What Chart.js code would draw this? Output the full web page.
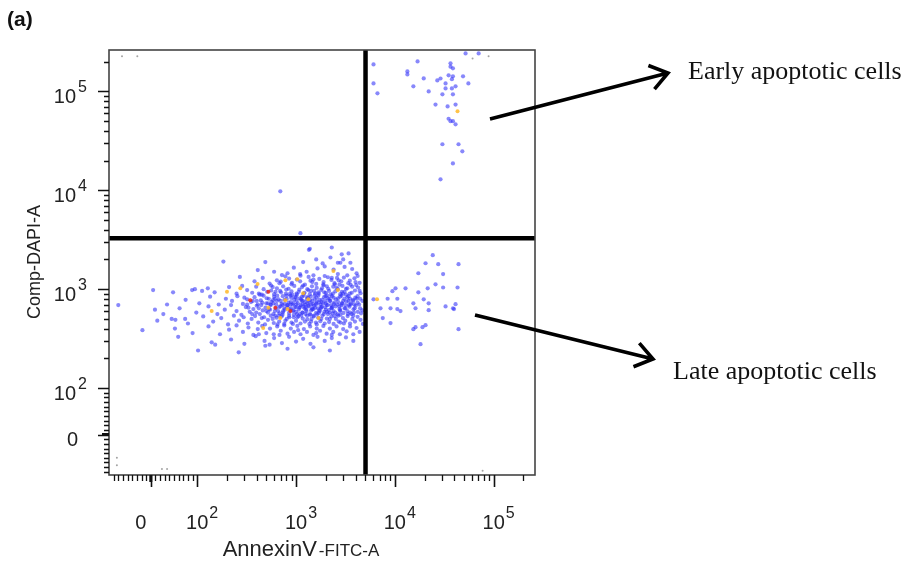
<!DOCTYPE html>
<html>
<head>
<meta charset="utf-8">
<title>AnnexinV / DAPI</title>
<script src="https://cdn.jsdelivr.net/npm/chart.js@4.4.1/dist/chart.umd.min.js"></script>
<style>
  html, body { margin: 0; padding: 0; background: #ffffff; }
  #wrap { width: 907px; height: 563px; position: relative; }
</style>
</head>
<body>
<div id="wrap"><canvas id="c" width="907" height="563"></canvas></div>
<script>
// ---------------- data (AnnexinV-FITC-A, Comp-DAPI-A) ----------------
const fitcRange = [-90, 262144];
const dapiRange = [-87, 262144];
const gateFitc = 5050;
const gateDapi = 3275;

const majorTicks = [0, 100, 1000, 10000, 100000];
const majorLabels = ['0', '10|2', '10|3', '10|4', '10|5'];
const minorTicks = [-80, -70, -60, -50, -40, -30, -20, -10, 10, 20, 30, 40, 50, 60, 70, 80, 90,
  200, 300, 400, 500, 600, 700, 800, 900,
  2000, 3000, 4000, 5000, 6000, 7000, 8000, 9000,
  20000, 30000, 40000, 50000, 60000, 70000, 80000, 90000, 200000];

// annexin-negative / DAPI-low population
const liveCells = [
  [1350,2500],[1380,2560],[2300,2640],[3400,2300],[2900,2250],
  [1180,1880],[2230,2090],[2650,1850],[2810,1850],[1860,1820],[3550,1850],[489,1880],[184,1900],[1600,2000],[3000,2000],
  [820,1450],[1100,1420],[1650,1620],[2400,1580],[4100,1450],[720,1390],[410,1560],[270,1330],[1280,1500],[1950,1700],[3100,1680],[2650,1420],[950,1650],[3700,1600],[1500,1380],[600,1500],
  [1020,1250],[1460,1180],[2100,1320],[2870,1200],[3900,1290],[640,1230],[780,1350],[1230,1110],[1720,1270],[2450,1150],[3300,1380],[4400,1160],[540,1140],[910,1160],[1340,1330],[1890,1120],[2600,1300],[3560,1110],[460,1300],[1110,1370],[1600,1130],[2280,1240],[3050,1310],[4200,1360],[700,1190],[1950,1360],[2750,1110],[850,1280],[1400,1220],[380,1200],
  [95,1000],[112,960],[128,1020],[150,930],[210,1050],[250,900],[285,1080],[320,980],[360,920],[395,1060],[430,880],[470,1000],[510,940],[560,1090],[600,890],[640,1020],[690,960],[740,1070],[790,900],[840,1010],[900,950],[960,1080],[1020,880],[1080,990],[1150,1050],[1220,920],[1300,1000],[1380,890],[1450,1070],[1530,960],[1620,1030],[1700,900],[1800,980],[1900,1090],[2000,920],[2120,1010],[2250,880],[2380,1060],[2500,950],[2650,1000],[2800,890],[2950,1080],[3100,940],[3300,1020],[3500,900],[3700,1060],[3950,970],[4250,1040],[4500,910],[1180,1090],[860,890],[620,940],[1560,900],[2050,1070],[3200,880],
  [75,780],[105,720],[135,840],[165,700],[195,800],[225,760],[255,850],[290,710],[320,790],[350,740],[380,830],[410,700],[440,770],[470,860],[500,720],[530,800],[565,745],[600,840],[630,700],[665,790],[700,760],[735,850],[770,710],[805,800],[840,730],[880,860],[920,700],[960,780],[1000,830],[1040,720],[1090,810],[1140,760],[1190,860],[1240,700],[1290,790],[1350,740],[1410,840],[1470,710],[1540,800],[1610,750],[1680,860],[1760,700],[1840,780],[1920,830],[2000,720],[2100,810],[2200,760],[2310,850],[2420,705],[2540,790],[2660,745],[2790,840],[2930,715],[3080,800],[3230,755],[3400,850],[3580,700],[3770,780],[3980,820],[4200,730],[4450,800],[4700,760],[585,775],[715,710],[1015,765],[1325,815],[1710,735],[2260,690],[2880,860],[3520,800],[455,730],[895,815],[1165,700],[2060,865],[1385,770],
  [62,640],[98,580],[130,670],[160,560],[190,620],[220,690],[250,600],[280,550],[310,660],[340,590],[370,630],[400,680],[430,560],[460,610],[490,650],[520,580],[555,690],[590,560],[625,640],[660,600],[695,670],[730,550],[770,620],[810,685],[850,575],[890,640],[930,600],[975,660],[1020,560],[1065,620],[1115,690],[1165,580],[1220,640],[1275,600],[1335,670],[1395,550],[1460,625],[1525,680],[1595,575],[1670,640],[1745,600],[1825,665],[1910,560],[2000,620],[2090,690],[2190,580],[2290,645],[2400,600],[2510,670],[2630,555],[2750,630],[2880,685],[3020,575],[3160,640],[3310,600],[3470,665],[3640,560],[3820,625],[4010,680],[4220,590],[4450,640],[4680,610],[545,620],[680,570],[820,655],[1000,590],[1190,665],[1420,610],[1700,575],[1970,655],[2340,570],[2800,615],[3350,560],[740,600],[950,550],[1250,560],[1560,650],[2150,615],[610,600],[1080,650],
  [45,500],[80,450],[115,530],[145,470],[175,510],[205,440],[235,540],[265,480],[295,520],[325,450],[355,500],[385,535],[415,460],[450,510],[485,440],[520,490],[555,540],[595,455],[635,515],[675,470],[715,530],[760,445],[805,500],[850,540],[900,460],[950,520],[1000,480],[1055,535],[1110,450],[1170,505],[1230,470],[1295,540],[1365,445],[1435,500],[1510,530],[1590,460],[1675,515],[1760,475],[1850,540],[1950,450],[2050,505],[2160,465],[2280,530],[2400,445],[2530,500],[2670,540],[2820,460],[2980,510],[3150,480],[3330,535],[3520,450],[3720,500],[3950,470],[4200,525],[4500,490],[4750,445],[650,440],[780,480],[1130,540],[1420,470],[1800,500],[2200,500],[2700,470],[580,500],[930,445],[1300,495],[1620,440],[2450,535],[3050,450],[3800,540],
  [52,400],[90,360],[130,420],[170,350],[210,390],[250,430],[290,370],[330,410],[370,345],[410,395],[455,425],[500,360],[545,400],[595,350],[645,420],[700,380],[760,430],[820,355],[885,400],[955,370],[1030,425],[1110,350],[1200,395],[1290,370],[1390,420],[1500,345],[1620,400],[1750,380],[1890,425],[2040,355],[2200,400],[2380,370],[2570,420],[2780,350],[3000,395],[3250,375],[3520,420],[3800,350],[4100,405],[4400,370],[680,345],[1050,385],[1600,360],[2300,345],[420,350],
  [59,330],[140,290],[220,310],[300,280],[390,335],[480,300],[600,320],[720,285],[850,330],[1000,295],[1180,315],[1400,280],[1650,330],[1950,300],[2300,320],[2700,285],[3200,325],[3800,300],[152,275],[540,275],
  [102,240],[489,268],[263,230],[820,250],[1500,258],[2200,240],
  [-70,690],[-18,385],[5,980],[9,620],[14,480],[27,560],[35,700],[48,930],[53,490],[74,500],[89,980]
];

// tightly packed core of the same population
const liveCore = [
  [300,820],[330,650],[365,760],[395,580],[420,900],[445,690],[475,520],[505,810],[535,630],[560,970],[590,720],[615,540],[645,860],[675,660],[705,930],[735,580],[765,780],[795,990],[825,690],[855,520],[885,740],[915,880],[945,610],[975,830],[1005,700],[1035,520],[1065,940],[1095,660],[1125,790],[1160,580],[1195,900],[1230,740],[1265,620],[1300,830],[1340,680],[1380,560],[1420,960],[1460,760],[1500,630],[1545,870],[1590,700],[1635,560],[1680,930],[1730,780],[1780,640],[1830,1020],[1880,720],[1935,590],[1990,850],[2045,690],[2100,560],[2160,960],[2220,760],[2290,640],[2360,900],[2430,730],[2500,580],[2580,1030],[2660,810],[2740,670],[2820,550],[2910,940],[3000,760],[3100,640],[3200,1010],[3310,830],[3420,690],[3540,580],[3660,920],[3790,760],[3920,640],[4060,1100],[4200,850],[4350,700],[4550,570],
  [320,700],[360,560],[400,760],[450,880],[500,600],[550,700],[610,800],[670,540],[730,690],[800,860],[870,620],[940,720],[1010,900],[1090,560],[1170,760],[1250,660],[1330,980],[1420,700],[1510,540],[1610,820],[1710,610],[1820,740],[1930,930],[2050,590],[2180,800],[2320,660],[2470,1120],[2630,700],[2800,600],[2980,900],[3170,690],[3380,1150],[3600,720],[3850,580],[4100,800],[4400,960],
  [580,1050],[680,1150],[900,1120],[1100,1200],[1500,1250],[1900,1180],[2300,1300],[2700,1230],[3500,1220],[4000,1180],
  [420,640],[520,720],[640,760],[760,640],[880,700],[1000,660],[1150,840],[1300,720],[1450,640],[1600,720],[1800,660],[2000,760],[2400,820],[2900,720],[3400,760],[3900,700]
];

// annexin-positive / DAPI-low population
const lowerRight = [
  [6085,790],[7160,640],[7550,510],[8450,800],[9040,640],[9040,454],[9450,955],[10160,1020],[10600,800],[10600,630],
  [11410,600],[12820,1020],[15400,720],[16190,640],[15400,394],[16190,413],[17300,1450],[17300,930],[18190,278],[19050,413],
  [19600,790],[20450,1830],[20450,433],[21500,1020],[22000,720],[22000,614],[24200,2205],[25810,1120],[27500,1790],[30800,1420],
  [30800,1040],[32600,670],[38800,640],[39700,630],[41160,705],[43100,1040],[44100,1790],[44100,394]
];

// DAPI-high population
const upperRight = [
  [6085,187500],[6085,120500],[6670,95500],[16980,201000],[13400,159000],[13400,148500],[15400,112400],[19600,135300],[22000,100000],[26900,129000],
  [29000,135000],[30300,93300],[32600,120500],[32600,107200],[34200,70500],[35000,145200],[36600,192000],[36600,178000],[37800,133000],[37800,107200],
  [38700,171000],[38700,142000],[38700,93300],[41160,112400],[41160,73600],[25800,73600],[35000,52900],[36600,50000],[38700,50000],[41160,46500],
  [30300,29200],[44100,29200],[48200,24800],[38700,18700],[29000,12900],[52000,242000],[70500,242000],[49000,142000],[55500,120500]
];

const upperLeft = [[693,9770],[1107,3680]];

// higher-density events
const denseEvents = [
  [200,940],[140,600],[408,1130],[465,405],[525,650],[780,1233],[820,630],[1030,1260],[1180,910],[1330,790],
  [1690,510],[2390,1530],[2650,980],[780,774],[273,1020],[693,510],[6600,790],[43100,62800]
];
const peakEvents = [[344,774],[617,650],[877,600],[525,940]];

// events piled on the axis edges
const edgeEvents = [[-62,226000],[-29,226000],[61200,215000],[88900,226000],[-73,-50],[-73,-66],[24,-74],[35,-74],[77300,-78]];

// ---------------- biexponential-style axis ----------------
const LIN_DECADES = 0.47; // display width of the 0..100 linear segment, in decades
function toDisplay(v) {
  return v >= 100 ? Math.log10(v) : 2 + (v - 100) / 100 * LIN_DECADES;
}
function fromDisplay(u) {
  return u >= 2 ? Math.pow(10, u) : 100 + (u - 2) / LIN_DECADES * 100;
}

class BiexScale extends Chart.Scale {
  determineDataLimits() {
    this.min = this.options.min;
    this.max = this.options.max;
  }
  buildTicks() {
    return majorTicks.map(v => ({ value: v }));
  }
  getLabelForValue(v) { return String(v); }
  configure() {
    super.configure();
    this._u0 = toDisplay(this.min);
    this._uSpan = toDisplay(this.max) - this._u0;
  }
  getPixelForValue(v) {
    return this.getPixelForDecimal((toDisplay(v) - this._u0) / this._uSpan);
  }
  getValueForPixel(p) {
    return fromDisplay(this._u0 + this.getDecimalForPixel(p) * this._uSpan);
  }
}
BiexScale.id = 'biex';
BiexScale.defaults = {};
Chart.register(BiexScale);

const toPts = arr => arr.map(p => ({ x: p[0], y: p[1] }));

const SANS = '"Liberation Sans", Arial, sans-serif';
const SERIF = '"Liberation Serif", "Times New Roman", serif';

function drawArrow(ctx, x1, y1, x2, y2) {
  const a = Math.atan2(y2 - y1, x2 - x1);
  const L = 21, w = 0.62;
  ctx.beginPath();
  ctx.moveTo(x1, y1); ctx.lineTo(x2, y2);
  ctx.moveTo(x2 - L * Math.cos(a - w), y2 - L * Math.sin(a - w));
  ctx.lineTo(x2, y2);
  ctx.lineTo(x2 - L * Math.cos(a + w), y2 - L * Math.sin(a + w));
  ctx.stroke();
}

const frame = {
  id: 'frame',
  afterDraw(chart) {
    const ctx = chart.ctx;
    const a = chart.chartArea;
    const xs = chart.scales.x, ys = chart.scales.y;
    ctx.save();

    // plot frame
    ctx.strokeStyle = '#444';
    ctx.lineWidth = 1.6;
    ctx.strokeRect(a.left, a.top, a.right - a.left, a.bottom - a.top);

    // tick marks
    ctx.strokeStyle = '#111';
    ctx.lineWidth = 1.3;
    ctx.beginPath();
    minorTicks.forEach(v => {
      const px = Math.round(xs.getPixelForValue(v)) + 0.5;
      ctx.moveTo(px, a.bottom); ctx.lineTo(px, a.bottom + 6);
      const py = Math.round(ys.getPixelForValue(v)) + 0.5;
      ctx.moveTo(a.left, py); ctx.lineTo(a.left - 5, py);
    });
    ctx.stroke();
    ctx.lineWidth = 1.6;
    ctx.beginPath();
    majorTicks.forEach(v => {
      const px = Math.round(xs.getPixelForValue(v)) + 0.5;
      ctx.moveTo(px, a.bottom); ctx.lineTo(px, a.bottom + 12);
      const py = Math.round(ys.getPixelForValue(v)) + 0.5;
      ctx.moveTo(a.left, py); ctx.lineTo(a.left - 11, py);
    });
    ctx.stroke();
    // zero marks are drawn heavier
    ctx.lineWidth = 3;
    ctx.beginPath();
    const zx = xs.getPixelForValue(0), zy = ys.getPixelForValue(0);
    ctx.moveTo(zx, a.bottom); ctx.lineTo(zx, a.bottom + 7);
    ctx.moveTo(a.left, zy); ctx.lineTo(a.left - 7, zy);
    ctx.stroke();

    // tick labels
    ctx.fillStyle = '#222';
    ctx.textBaseline = 'alphabetic';
    majorTicks.forEach((v, i) => {
      const parts = majorLabels[i].split('|');
      const px = xs.getPixelForValue(v);
      const py = ys.getPixelForValue(v);
      ctx.font = '20px ' + SANS;
      if (parts.length === 1) {
        ctx.textAlign = 'center';
        ctx.fillText(parts[0], px - 10, 529);
        ctx.textAlign = 'right';
        ctx.fillText(parts[0], 78, py + 11);
      } else {
        const bw = ctx.measureText(parts[0]).width;
        ctx.textAlign = 'center';
        ctx.fillText(parts[0], px, 529);
        ctx.textAlign = 'right';
        ctx.fillText(parts[0], 76, py + 12);
        ctx.font = '16px ' + SANS;
        ctx.textAlign = 'left';
        ctx.fillText(parts[1], px + bw / 2 + 1, 518);
        ctx.fillText(parts[1], 78, py + 1);
      }
    });

    // axis titles
    ctx.font = '22px ' + SANS;
    const t1 = 'AnnexinV';
    ctx.font = '17px ' + SANS;
    const t2 = '-FITC-A';
    const w2 = ctx.measureText(t2).width;
    ctx.font = '22px ' + SANS;
    const w1 = ctx.measureText(t1).width;
    const cx = 300 - (w1 + w2) / 2;
    ctx.textAlign = 'left';
    ctx.fillText(t1, cx, 556);
    ctx.font = '17px ' + SANS;
    ctx.fillText(t2, cx + w1 + 2, 556);

    ctx.save();
    ctx.translate(40, 262);
    ctx.rotate(-Math.PI / 2);
    ctx.font = '18px ' + SANS;
    ctx.textAlign = 'center';
    ctx.fillText('Comp-DAPI-A', 0, 0);
    ctx.restore();

    // panel tag
    ctx.fillStyle = '#111';
    ctx.font = 'bold 21px ' + SANS;
    ctx.textAlign = 'left';
    ctx.fillText('(a)', 7, 26);

    // population call-outs
    ctx.strokeStyle = '#000';
    ctx.lineWidth = 3.6;
    ctx.lineCap = 'butt';
    ctx.lineJoin = 'miter';
    drawArrow(ctx, a.right - 45, a.top + 69, a.right + 133, a.top + 23);
    drawArrow(ctx, a.right - 60, a.top + 265, a.right + 118, a.top + 309);
    ctx.fillStyle = '#111';
    ctx.font = '26px ' + SERIF;
    ctx.textBaseline = 'middle';
    ctx.fillText('Early apoptotic cells', a.right + 153, a.top + 22);
    ctx.fillText('Late apoptotic cells', a.right + 138, a.top + 322);
    ctx.restore();
  }
};

const dot = (color, r) => ({
  pointRadius: r, pointHoverRadius: r, pointBorderWidth: 0,
  pointBackgroundColor: color, backgroundColor: color, borderColor: color, showLine: false
});
const BLUE = 'rgba(50,50,248,0.58)';

new Chart(document.getElementById('c'), {
  type: 'scatter',
  data: {
    datasets: [
      { label: 'DAPI gate', data: [{ x: fitcRange[0], y: gateDapi }, { x: fitcRange[1], y: gateDapi }],
        showLine: true, borderColor: '#000', borderWidth: 4.5, pointRadius: 0, order: 0 },
      { label: 'AnnexinV gate', data: [{ x: gateFitc, y: dapiRange[0] }, { x: gateFitc, y: dapiRange[1] }],
        showLine: true, borderColor: '#000', borderWidth: 4.5, pointRadius: 0, order: 0 },
      Object.assign({ label: 'peak', data: toPts(peakEvents), order: 1 }, dot('rgba(235,40,25,0.85)', 2)),
      Object.assign({ label: 'dense', data: toPts(denseEvents), order: 2 }, dot('rgba(255,185,40,0.85)', 2)),
      Object.assign({ label: 'live', data: toPts(liveCells), order: 3 }, dot(BLUE, 2.1)),
      Object.assign({ label: 'live core', data: toPts(liveCore), order: 3 }, dot(BLUE, 2.1)),
      Object.assign({ label: 'lower right', data: toPts(lowerRight), order: 3 }, dot(BLUE, 2.1)),
      Object.assign({ label: 'upper right', data: toPts(upperRight), order: 3 }, dot(BLUE, 2.1)),
      Object.assign({ label: 'upper left', data: toPts(upperLeft), order: 3 }, dot(BLUE, 2.1)),
      Object.assign({ label: 'edge', data: toPts(edgeEvents), order: 3 }, dot('rgba(140,140,140,0.8)', 1))
    ]
  },
  options: {
    responsive: false,
    devicePixelRatio: 1,
    animation: false,
    events: [],
    layout: { padding: { left: 109, right: 372, top: 50, bottom: 88 } },
    plugins: { legend: { display: false }, tooltip: { enabled: false } },
    scales: {
      x: { type: 'biex', min: fitcRange[0], max: fitcRange[1], display: false },
      y: { type: 'biex', min: dapiRange[0], max: dapiRange[1], display: false }
    }
  },
  plugins: [frame]
});
</script>
</body>
</html>
